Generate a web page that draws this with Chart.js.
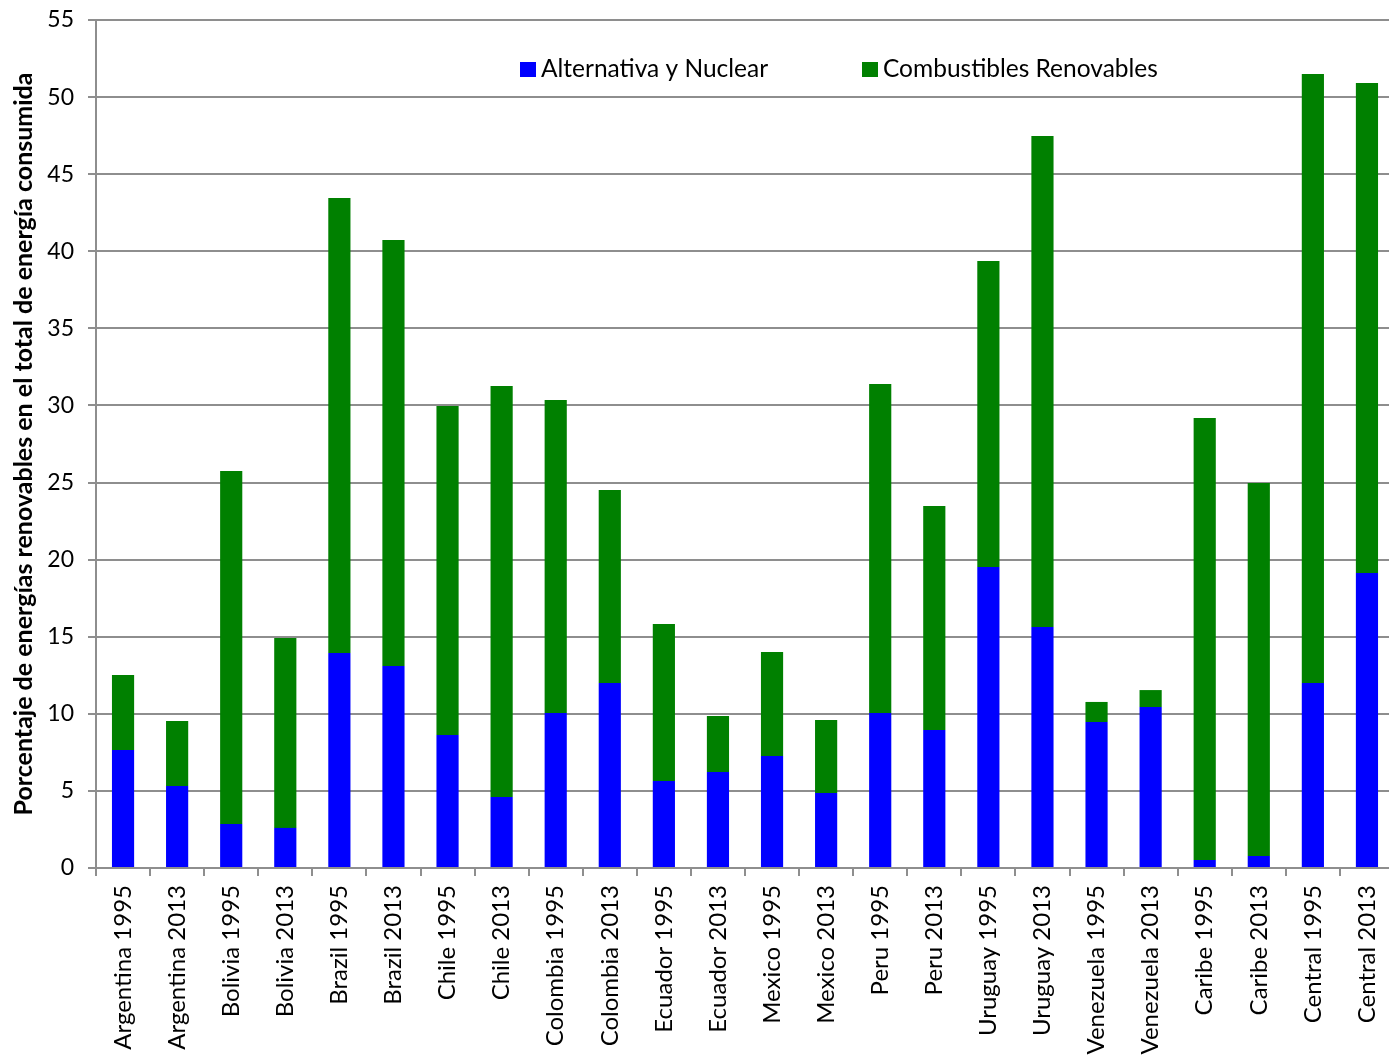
<!DOCTYPE html>
<html>
<head>
<meta charset="utf-8">
<script src="https://cdn.jsdelivr.net/npm/chart.js@4"></script>
<style>
  html, body { margin: 0; padding: 0; background: #fff; overflow: hidden; }
  #wrap { width: 1389px; height: 1057px; overflow: hidden; }
</style>
</head>
<body>
<div id="wrap"><canvas id="myChart" width="1394" height="1057"></canvas></div>
<script>
'use strict';

const categories = ['Argentina 1995', 'Argentina 2013', 'Bolivia 1995', 'Bolivia 2013', 'Brazil 1995', 'Brazil 2013',
  'Chile 1995', 'Chile 2013', 'Colombia 1995', 'Colombia 2013', 'Ecuador 1995', 'Ecuador 2013',
  'Mexico 1995', 'Mexico 2013', 'Peru 1995', 'Peru 2013', 'Uruguay 1995', 'Uruguay 2013',
  'Venezuela 1995', 'Venezuela 2013', 'Caribe 1995', 'Caribe 2013', 'Central 1995', 'Central 2013'];

const alternativaNuclear = [7.65, 5.32, 2.85, 2.6, 13.94, 13.1, 8.63, 4.6, 10.05, 12.0, 5.64, 6.23,
  7.26, 4.86, 10.05, 8.95, 19.52, 15.63, 9.47, 10.44, 0.52, 0.78, 12.0, 19.13];

const combustiblesRenovables = [4.87, 4.21, 22.9, 12.32, 29.52, 27.63, 21.33, 26.66, 20.3, 12.52, 10.19, 3.63,
  6.75, 4.74, 21.34, 14.53, 19.85, 31.85, 1.3, 1.1, 28.67, 24.19, 39.5, 31.78];

const yTicks = [0, 5, 10, 15, 20, 25, 30, 35, 40, 45, 50, 55];

const seriesNames = ['Alternativa y Nuclear', 'Combustibles Renovables'];
const axisTitle = 'Porcentaje de energías renovables en el total de energía consumida';

const fontFam = 'Lato, "Open Sans", sans-serif';
const gridColor = '#8e8e8e';

// legend sits inside the plot, so draw it by hand
const innerLegend = {
  id: 'innerLegend',
  afterDraw(chart) {
    const c = chart.ctx;
    const spots = [520, 862];
    c.save();
    c.font = '24.5px ' + fontFam;
    c.textBaseline = 'middle';
    c.textAlign = 'left';
    chart.data.datasets.forEach((ds, i) => {
      c.fillStyle = ds.backgroundColor;
      c.fillRect(spots[i], 62, 16, 15);
      c.fillStyle = '#000';
      c.fillText(ds.label, spots[i] + 21, 69);
    });
    c.restore();
  }
};

const ctx = document.getElementById('myChart').getContext('2d');

const myChart = new Chart(ctx, {
  type: 'bar',
  data: {
    labels: categories,
    datasets: [{
      label: seriesNames[0],
      data: alternativaNuclear,
      backgroundColor: '#0000ff',
      barPercentage: 0.82,
      categoryPercentage: 0.5
    },
    {
      label: seriesNames[1],
      data: combustiblesRenovables,
      backgroundColor: '#008000',
      barPercentage: 0.82,
      categoryPercentage: 0.5
    }]
  },
  options: {
    responsive: false,
    animation: false,
    layout: { padding: { top: 20, right: 0, left: 9, bottom: 0 } },
    plugins: {
      legend: { display: false },
      tooltip: { enabled: false }
    },
    scales: {
      x: {
        stacked: true,
        afterFit: (s) => { s.height = 189; s.paddingLeft = 0; s.paddingRight = 0; },
        grid: { drawOnChartArea: false, color: gridColor, lineWidth: 2, tickLength: 8, offset: true },
        border: { color: gridColor, width: 2 },
        ticks: {
          color: '#000',
          font: { family: fontFam, size: 24 },
          minRotation: 90,
          maxRotation: 90,
          autoSkip: false,
          padding: 9
        }
      },
      y: {
        stacked: true,
        min: 0,
        max: 55,
        afterFit: (s) => { s.width = 87; s.paddingTop = 0; s.paddingBottom = 0; },
        afterBuildTicks: (s) => { s.ticks = yTicks.map(v => ({ value: v })); },
        grid: { color: gridColor, lineWidth: 2, tickLength: 8 },
        border: { color: gridColor, width: 2 },
        title: {
          display: true,
          text: axisTitle,
          color: '#000',
          font: { family: fontFam, size: 25, weight: 'bold' },
          padding: 0
        },
        ticks: {
          color: '#000',
          font: { family: fontFam, size: 23 },
          padding: 14
        }
      }
    }
  },
  plugins: [innerLegend]
});
</script>
</body>
</html>
